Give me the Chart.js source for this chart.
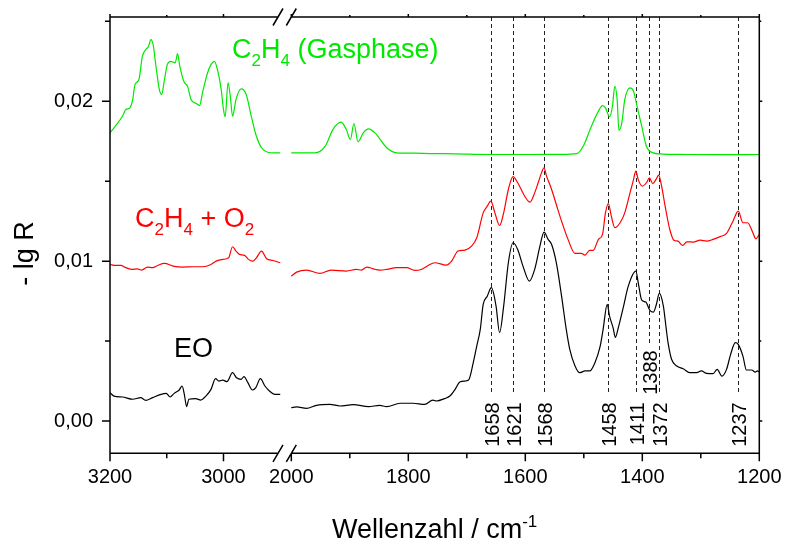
<!DOCTYPE html>
<html>
<head>
<meta charset="utf-8">
<script src="https://cdn.jsdelivr.net/npm/chart.js@4.4.0/dist/chart.umd.min.js"></script>
<style>
  html, body { margin: 0; padding: 0; background: #fff; }
</style>
</head>
<body>
<canvas id="ir" width="785" height="543"></canvas>
<script>
// Wavenumbers (cm^-1) and -lg R, high range 3200-2900 and low range 2000-1200
const wnGasHigh = [3200,3193,3178,3172,3165,3160,3156,3149,3143,3137,3132,3128,3124,3119,3113,3109,3104,3099,3093,3085,3081,3077,3070,3063,3057,3048,3042,3037,3028,3022,3016,3010,3004,3000,2997,2992,2988,2984,2978,2969,2960,2951,2942,2933,2922,2910,2900];
const gasHigh = [.01802,.01834,.01906,.01948,.01959,.0201,.02104,.02136,.02281,.02323,.02344,.02386,.02354,.02219,.02073,.02042,.02136,.02229,.0225,.0224,.02298,.02219,.02125,.0209,.0201,.01986,.01973,.02053,.02178,.02229,.0225,.02188,.02073,.01948,.01903,.02115,.02031,.01906,.0201,.02077,.02042,.01906,.01781,.01709,.01681,.01677,.01677];
const wnGasLow = [2000,1960,1942,1929,1915,1906,1899,1893,1886,1877,1868,1857,1837,1820,1790,1763,1720,1660,1591,1540,1512,1501,1487,1475,1468,1463,1456,1451,1447,1443,1440,1435,1430,1421,1415,1409,1401,1393,1381,1370,1324,1270,1200];
const gasLow = [.01677,.01677,.01719,.01823,.01869,.01823,.01761,.01861,.01746,.01802,.01827,.01802,.01709,.01677,.01675,.01673,.01671,.01667,.01667,.01668,.01673,.01719,.01844,.01938,.01973,.01959,.01903,.01969,.02094,.0201,.01819,.01865,.0201,.02084,.02063,.01969,.01844,.01719,.01677,.01671,.01667,.01666,.01667];

const wnMixHigh = [3200,3190,3181,3172,3161,3152,3144,3134,3125,3116,3104,3089,3072,3054,3037,3022,3013,3001,2991,2984,2978,2972,2963,2956,2948,2942,2933,2924,2913,2900];
const mixHigh = [.00979,.00973,.00973,.00959,.00948,.00952,.00944,.00963,.00959,.00973,.00986,.00969,.00963,.00965,.00965,.00979,.01,.01011,.01021,.0109,.01063,.01042,.01036,.01011,.01,.01021,.01063,.01015,.01004,.0099];
const wnMixLow = [2000,1991,1974,1951,1932,1906,1889,1880,1871,1860,1849,1837,1820,1803,1789,1778,1766,1755,1735,1726,1715,1703,1692,1683,1672,1665,1659,1652,1644,1637,1629,1621,1613,1601,1592,1584,1578,1572,1568,1564,1555,1547,1538,1527,1515,1504,1498,1490,1484,1475,1468,1463,1458,1453,1447,1438,1430,1421,1415,1411,1407,1400,1392,1388,1382,1376,1372,1367,1361,1353,1346,1339,1331,1324,1313,1301,1290,1279,1267,1256,1245,1236,1228,1220,1211,1206,1200];
const mixLow = [.00906,.00931,.00944,.00923,.00944,.00938,.00948,.00944,.00963,.00952,.00944,.00948,.00959,.00959,.00942,.00948,.00973,.0099,.00975,.01,.01063,.01069,.01094,.01146,.01302,.01344,.01375,.01302,.01223,.01302,.01448,.01528,.0149,.01406,.01369,.01427,.0149,.01555,.01584,.01535,.01448,.01354,.0125,.01136,.01048,.01048,.01038,.01067,.01067,.01136,.01167,.01302,.0136,.01281,.01209,.0124,.01302,.01427,.0151,.01563,.0151,.01469,.01495,.01521,.01485,.01515,.01538,.01469,.01344,.01198,.01131,.01125,.01098,.01121,.01119,.01131,.01125,.01136,.01153,.01173,.0125,.01313,.0124,.0124,.01178,.0114,.01167];

const wnEoHigh = [3200,3193,3178,3160,3146,3137,3125,3110,3101,3094,3087,3078,3073,3069,3065,3061,3049,3040,3031,3022,3014,3008,3001,2994,2984,2977,2969,2964,2957,2949,2943,2935,2927,2919,2910,2900];
const eoHigh = [.00177,.00156,.0015,.00136,.00146,.00129,.00146,.00167,.00173,.0015,.00173,.00194,.00219,.00167,.0009,.00136,.0014,.00131,.00156,.00198,.00265,.0025,.00256,.00246,.00302,.00271,.00261,.00277,.0024,.00194,.00209,.00265,.00219,.00188,.00167,.00167];
const wnEoLow = [2000,1991,1974,1957,1934,1917,1894,1868,1849,1837,1814,1792,1772,1758,1752,1738,1729,1720,1712,1703,1697,1689,1683,1677,1672,1665,1658,1650,1644,1637,1629,1621,1613,1604,1593,1584,1575,1568,1561,1555,1547,1538,1530,1524,1515,1507,1498,1490,1481,1472,1467,1460,1456,1450,1446,1441,1432,1424,1411,1407,1401,1394,1387,1381,1376,1371,1364,1359,1356,1350,1341,1330,1319,1307,1299,1290,1279,1272,1264,1256,1249,1241,1236,1228,1222,1213,1207,1203,1200];
const eoLow = [.00084,.00088,.00079,.00098,.00104,.00094,.00102,.0009,.00098,.0009,.00111,.00111,.00104,.00131,.00125,.0014,.00156,.00198,.00244,.0025,.00256,.00365,.00469,.00573,.00729,.00781,.00834,.00719,.00553,.00719,.0099,.01115,.01073,.00969,.00875,.00948,.01094,.01181,.01136,.01104,.0099,.00781,.00573,.00448,.00344,.00302,.00313,.00313,.00365,.00469,.00573,.0073,.00656,.00584,.00523,.00584,.00719,.00844,.00938,.00865,.00756,.00744,.00692,.00681,.00729,.00798,.00719,.00573,.0049,.00386,.00344,.00327,.00302,.00302,.00313,.00298,.00296,.00323,.00281,.00323,.00417,.0049,.00479,.00406,.00319,.00319,.00306,.00313,.00306];

// marked bands
const peakPositions = [1658, 1621, 1568, 1458, 1411, 1388, 1372, 1237];

// axis ticks
const xTicksHigh = [3200, 3100, 3000];
const xTicksLow = [2000, 1900, 1800, 1700, 1600, 1500, 1400, 1300, 1200];
const yTicks = [0, 0.005, 0.01, 0.015, 0.02, 0.025];

const GREEN = '#00e800', RED = '#ff0000', BLACK = '#000000';
const plotFont = '"Liberation Sans", Arial, sans-serif';
const raisedLabels = [1388];

function pts(xs, ys) { return xs.map((x, i) => ({ x: x, y: ys[i] })); }

function spectrum(label, xs, ys, color, axis) {
    return {
        label: label, data: pts(xs, ys), xAxisID: axis, yAxisID: 'y',
        borderColor: color, borderWidth: 1.2, pointRadius: 0, fill: false,
        cubicInterpolationMode: 'monotone'
    };
}

const isMajorX = v => v % 200 === 0;
const isMajorY = v => Math.abs(v * 100 - Math.round(v * 100)) < 1e-6;

// scale label padding would push the plot area around, we place it by layout padding only
function noPad(s) { s.paddingTop = 0; s.paddingBottom = 0; s.paddingLeft = 0; s.paddingRight = 0; }

function chemText(ctx, parts, x, y, color) {
    ctx.fillStyle = color;
    ctx.textAlign = 'left';
    ctx.textBaseline = 'alphabetic';
    let cx = x;
    parts.forEach(([t, sub]) => {
        ctx.font = (sub ? '17px ' : '27px ') + plotFont;
        ctx.fillText(t, cx, sub ? y + 8 : y);
        cx += ctx.measureText(t).width;
    });
}

const decor = {
    id: 'decor',
    beforeDatasetsDraw(chart) {
        const { ctx, chartArea: ca, scales } = chart;
        const xs = scales.xLow;
        ctx.save();
        ctx.strokeStyle = '#222';
        ctx.lineWidth = 1;
        ctx.setLineDash([4, 3]);
        ctx.fillStyle = '#000';
        ctx.font = '20px ' + plotFont;
        ctx.textAlign = 'right';
        ctx.textBaseline = 'alphabetic';
        peakPositions.forEach(p => {
            const x = Math.round(xs.getPixelForValue(p)) + 0.5;
            const up = raisedLabels.includes(p);
            const yEnd = ca.bottom - (up ? 108 : 60);
            ctx.beginPath();
            ctx.moveTo(x, ca.top);
            ctx.lineTo(x, yEnd);
            ctx.stroke();
            ctx.save();
            ctx.translate(x + 7.5, yEnd + (up ? 5 : 9));
            ctx.rotate(-Math.PI / 2);
            ctx.fillText(String(p), 0, 0);
            ctx.restore();
        });
        ctx.restore();
    },
    afterDatasetsDraw(chart) {
        const { ctx, chartArea: ca, scales } = chart;
        const L = ca.left, R = ca.right, T = ca.top, B = ca.bottom;
        const b1 = scales.xHigh.right - 7;
        const b2 = scales.xLow.getPixelForValue(2000);
        ctx.save();
        ctx.strokeStyle = '#000';
        ctx.lineWidth = 1.5;
        ctx.setLineDash([]);
        ctx.beginPath();
        ctx.moveTo(L, T); ctx.lineTo(b1, T); ctx.moveTo(b2, T); ctx.lineTo(R, T);
        ctx.moveTo(L, B); ctx.lineTo(b1, B); ctx.moveTo(b2, B); ctx.lineTo(R, B);
        ctx.moveTo(L, T - 0.75); ctx.lineTo(L, B + 0.75);
        ctx.moveTo(R, T - 0.75); ctx.lineTo(R, B + 0.75);
        [b1, b2].forEach(bx => [T, B].forEach(y => {
            ctx.moveTo(bx - 5, y + 8.5);
            ctx.lineTo(bx + 5, y - 8.5);
        }));
        // ticks
        const xTick = (scale, v) => {
            const x = scale.getPixelForValue(v);
            const m = isMajorX(v);
            ctx.moveTo(x, B); ctx.lineTo(x, B + (m ? 8 : 5));
            ctx.moveTo(x, T); ctx.lineTo(x, T - (m ? 3 : 2));
        };
        xTicksHigh.forEach(v => xTick(scales.xHigh, v));
        xTicksLow.forEach(v => xTick(scales.xLow, v));
        yTicks.forEach(v => {
            const y = scales.y.getPixelForValue(v);
            const m = isMajorY(v);
            ctx.moveTo(L, y); ctx.lineTo(L - (m ? 8 : 5), y);
            ctx.moveTo(R, y); ctx.lineTo(R + (m ? 3 : 2), y);
        });
        ctx.stroke();

        // series labels
        chemText(ctx, [['C', 0], ['2', 1], ['H', 0], ['4', 1], [' (Gasphase)', 0]], 232, 58.3, GREEN);
        chemText(ctx, [['C', 0], ['2', 1], ['H', 0], ['4', 1], [' + O', 0], ['2', 1]], 135, 226.7, RED);
        chemText(ctx, [['EO', 0]], 174, 356.7, BLACK);

        // axis titles
        ctx.fillStyle = '#000';
        ctx.font = '27px ' + plotFont;
        const main = 'Wellenzahl / cm';
        const wMain = ctx.measureText(main).width;
        ctx.font = '17px ' + plotFont;
        const wSup = ctx.measureText('-1').width;
        const x0 = (L + R) / 2 - (wMain + wSup) / 2;
        ctx.textAlign = 'left';
        ctx.textBaseline = 'alphabetic';
        ctx.font = '27px ' + plotFont;
        ctx.fillText(main, x0, 538);
        ctx.font = '17px ' + plotFont;
        ctx.fillText('-1', x0 + wMain, 527);

        ctx.save();
        ctx.translate(33.3, 253.5);
        ctx.rotate(-Math.PI / 2);
        ctx.textAlign = 'center';
        ctx.font = '27px ' + plotFont;
        ctx.fillText('- lg R', 0, 0);
        ctx.restore();
        ctx.restore();
    }
};

const tickFont = { family: plotFont, size: 20 };

new Chart(document.getElementById('ir').getContext('2d'), {
    type: 'line',
    data: {
        datasets: [
            spectrum('C2H4 (Gasphase)', wnGasHigh, gasHigh, GREEN, 'xHigh'),
            spectrum('C2H4 (Gasphase)', wnGasLow, gasLow, GREEN, 'xLow'),
            spectrum('C2H4 + O2', wnMixHigh, mixHigh, RED, 'xHigh'),
            spectrum('C2H4 + O2', wnMixLow, mixLow, RED, 'xLow'),
            spectrum('EO', wnEoHigh, eoHigh, BLACK, 'xHigh'),
            spectrum('EO', wnEoLow, eoLow, BLACK, 'xLow')
        ]
    },
    options: {
        responsive: false, animation: false,
        layout: { padding: { top: 17, right: 25.7, left: 0, bottom: 0 } },
        plugins: { legend: { display: false }, tooltip: { enabled: false } },
        scales: {
            xHigh: {
                type: 'linear', axis: 'x', position: 'bottom', reverse: true,
                min: 2891.6, max: 3200, stack: 'wn', stackWeight: 175,
                grid: { display: false, drawTicks: false }, border: { display: false },
                afterBuildTicks: s => { s.ticks = xTicksHigh.map(v => ({ value: v })); },
                afterFit: s => { s.height = 89.7; noPad(s); },
                ticks: { autoSkip: false, maxRotation: 0, padding: 12, color: '#000', font: tickFont,
                         callback: v => isMajorX(v) ? String(v) : '' }
            },
            xLow: {
                type: 'linear', axis: 'x', position: 'bottom', reverse: true,
                min: 1200, max: 2010.8, stack: 'wn', stackWeight: 474.3,
                grid: { display: false, drawTicks: false }, border: { display: false },
                afterBuildTicks: s => { s.ticks = xTicksLow.map(v => ({ value: v })); },
                afterFit: s => { s.height = 89.7; noPad(s); },
                ticks: { autoSkip: false, maxRotation: 0, padding: 12, color: '#000', font: tickFont,
                         callback: v => isMajorX(v) ? String(v) : '' }
            },
            y: {
                type: 'linear', position: 'left', min: -0.00202, max: 0.02527,
                grid: { display: false, drawTicks: false }, border: { display: false },
                afterBuildTicks: s => { s.ticks = yTicks.map(v => ({ value: v })); },
                afterFit: s => { s.width = 110; noPad(s); },
                ticks: { autoSkip: false, padding: 17, color: '#000', font: tickFont,
                         callback: v => isMajorY(v) ? v.toFixed(2).replace('.', ',') : '' }
            }
        }
    },
    plugins: [decor]
});
</script>
</body>
</html>
